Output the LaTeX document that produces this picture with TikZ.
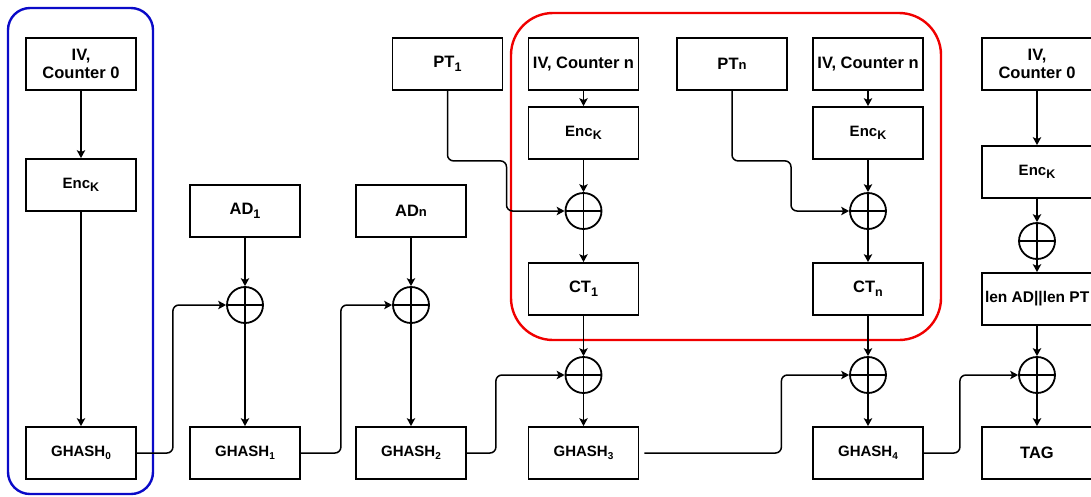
\documentclass[tikz,border=0pt]{standalone}
\usepackage{fontspec}
\setmainfont{Liberation Sans}
\usetikzlibrary{arrows.meta,calc}
\definecolor{boxblue}{RGB}{10,10,200}
\definecolor{boxred}{RGB}{240,0,0}
\tikzset{
  blk/.style={draw, line width=1.8pt, minimum width=110pt, minimum height=52pt, inner sep=0pt, align=center, font=\bfseries\fontsize{16.5}{18}\selectfont},
  smallblk/.style={blk, font=\bfseries\fontsize{15}{17}\selectfont},
  xorop/.style={draw, circle, line width=1.8pt, minimum size=36pt, inner sep=0pt,
    path picture={\draw[line width=1.6pt] (path picture bounding box.north) -- (path picture bounding box.south) (path picture bounding box.west) -- (path picture bounding box.east);}},
  conn/.style={line width=1.5pt, rounded corners=6pt, -{Stealth[length=8pt,width=8.5pt,inset=2pt]}},
}
\newcommand{\sbb}[1]{\raisebox{-0.45ex}{\fontsize{12.5}{13}\selectfont #1}}
\newcommand{\sbg}[1]{\raisebox{-0.35ex}{\fontsize{10}{11}\selectfont #1}}
\newcommand{\sbn}[1]{{\fontsize{13}{13}\selectfont #1}}
\begin{document}
\begin{tikzpicture}[x=1pt,y=-1pt]
\useasboundingbox (0,0) rectangle (1091,496);
% group frames
\draw[boxblue, line width=2.4pt, rounded corners=22pt] (8,8) rectangle (153,494);
\draw[boxred, line width=2.4pt, rounded corners=42pt] (511,13) rectangle (941,340);
% column 1
\node[blk] (iv0) at (81,64) {IV,\\Counter 0};
\node[smallblk] (enc0) at (81,185) {Enc\sbb{K}};
\node[smallblk] (gh0) at (81,453) {GHASH\sbg{0}};
% column 2
\node[blk] (ad1) at (245,211) {AD\sbb{1}};
\node[xorop] (x1) at (245,305) {};
\node[smallblk] (gh1) at (245,453) {GHASH\sbg{1}};
% column 3
\node[blk] (adn) at (411,211) {AD\sbn{n}};
\node[xorop] (x2) at (411,305) {};
\node[smallblk] (gh2) at (411,453) {GHASH\sbg{2}};
% column 4
\node[blk] (pt1) at (447.5,64) {PT\sbb{1}};
\node[blk] (ivn1) at (583.5,64) {IV, Counter n};
\node[smallblk] (enc1) at (583.5,133) {Enc\sbb{K}};
\node[xorop] (x3) at (583.5,211) {};
\node[blk] (ct1) at (583.5,289) {CT\sbb{1}};
\node[xorop] (x4) at (583.5,375) {};
\node[smallblk] (gh3) at (583.5,453) {GHASH\sbg{3}};
% column 5
\node[blk] (ptn) at (732,64) {PT\sbn{n}};
\node[blk] (ivn2) at (868,64) {IV, Counter n};
\node[smallblk] (enc2) at (868,133) {Enc\sbb{K}};
\node[xorop] (x5) at (868,211) {};
\node[blk] (ctn) at (868,289) {CT\sbb{n}};
\node[xorop] (x6) at (868,375) {};
\node[smallblk] (gh4) at (868,453) {GHASH\sbg{4}};
% column 6
\node[blk] (iv02) at (1037,64) {IV,\\Counter 0};
\node[smallblk] (enc3) at (1037,172) {Enc\sbb{K}};
\node[xorop] (x7) at (1037,241) {};
\node[blk, font=\bfseries\fontsize{15.5}{17}\selectfont] (len) at (1037,299) {\makebox[104pt][l]{len AD||len PT}};
\node[xorop] (x8) at (1037,375) {};
\node[blk] (tag) at (1037,453) {TAG};
% vertical connectors
\draw[conn] (iv0) -- (enc0);
\draw[conn] (enc0) -- (gh0);
\draw[conn] (ad1) -- (x1);
\draw[conn] (x1) -- (gh1);
\draw[conn] (adn) -- (x2);
\draw[conn] (x2) -- (gh2);
\draw[conn] (ivn1) -- (enc1);
\draw[conn] (enc1) -- (x3);
\draw[conn] (x3) -- (ct1);
\draw[conn] (ct1) -- (x4);
\draw[conn] (x4) -- (gh3);
\draw[conn] (ivn2) -- (enc2);
\draw[conn] (enc2) -- (x5);
\draw[conn] (x5) -- (ctn);
\draw[conn] (ctn) -- (x6);
\draw[conn] (x6) -- (gh4);
\draw[conn] (iv02) -- (enc3);
\draw[conn] (enc3) -- (x7);
\draw[conn] (x7) -- (len);
\draw[conn] (len) -- (x8);
\draw[conn] (x8) -- (tag);
% plaintext inputs
\draw[conn] (pt1.south) -- ++(0,70) -- ++(59,0) |- (x3.west);
\draw[conn] (ptn.south) -- ++(0,70) -- ++(59,0) |- (x5.west);
% GHASH chain
\draw[conn] (gh0.east) -- ++(36,0) |- (x1.west);
\draw[conn] (gh1.east) -- ++(40,0) |- (x2.west);
\draw[conn] (gh2.east) -- ++(29,0) |- (x4.west);
\draw[conn, shorten <=5pt] (gh3.east) -- ++(142,0) |- (x6.west);
\draw[conn] (gh4.east) -- ++(36,0) |- (x8.west);
\end{tikzpicture}
\end{document}
